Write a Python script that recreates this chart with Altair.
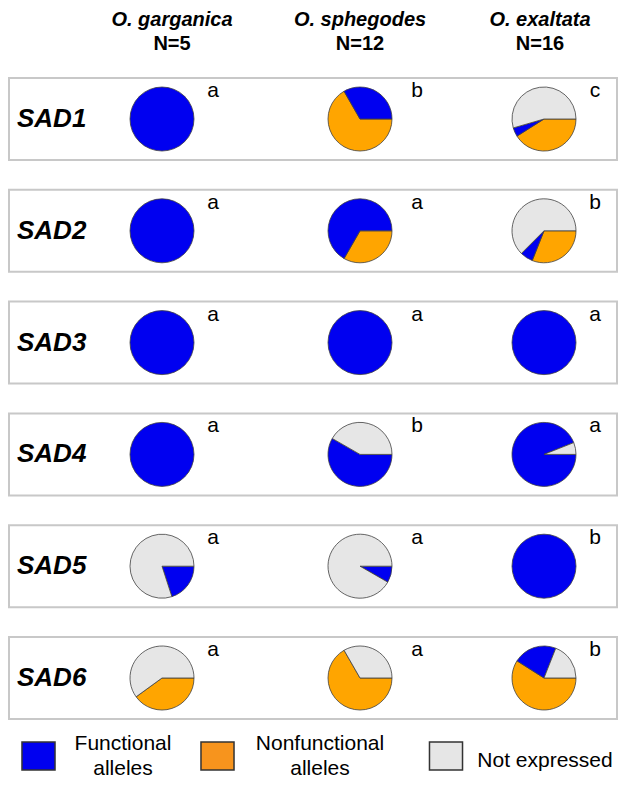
import math
import altair as alt
import pandas as pd

# ---------------- data ----------------
genes = ["SAD1", "SAD2", "SAD3", "SAD4", "SAD5", "SAD6"]
species = ["O. garganica", "O. sphegodes", "O. exaltata"]
sample_sizes = ["N=5", "N=12", "N=16"]

# slice order clockwise from 3 o'clock
categories = ["Nonfunctional alleles", "Functional alleles", "Not expressed"]

# fractions, rows = genes, columns = species
nonfunctional = [
    [0.0, 0.667, 0.41],
    [0.0, 0.333, 0.31],
    [0.0, 0.0, 0.0],
    [0.0, 0.0, 0.0],
    [0.0, 0.0, 0.0],
    [0.4, 0.667, 0.59],
]
functional = [
    [1.0, 0.333, 0.045],
    [1.0, 0.667, 0.065],
    [1.0, 1.0, 1.0],
    [1.0, 0.583, 0.94],
    [0.2, 0.083, 1.0],
    [0.0, 0.0, 0.22],
]
not_expressed = [
    [0.0, 0.0, 0.545],
    [0.0, 0.0, 0.625],
    [0.0, 0.0, 0.0],
    [0.0, 0.417, 0.06],
    [0.8, 0.917, 0.0],
    [0.6, 0.333, 0.19],
]
letters = [
    ["a", "b", "c"],
    ["a", "a", "b"],
    ["a", "a", "a"],
    ["a", "b", "a"],
    ["a", "a", "b"],
    ["a", "a", "b"],
]
legend_labels = ["Functional\nalleles", "Nonfunctional\nalleles", "Not expressed"]
legend_keys = ["Functional alleles", "Nonfunctional alleles", "Not expressed"]

# ---------------- tables ----------------
pie_rows = []
for gi, g in enumerate(genes):
    for si in range(len(species)):
        vals = [nonfunctional[gi][si], functional[gi][si], not_expressed[gi][si]]
        tot = sum(vals)
        start = 0.0
        for cat, v in zip(categories, vals):
            if v > 0:
                pie_rows.append(dict(gene=g, col=si, category=cat,
                                     start=start / tot, end=(start + v) / tot))
            start += v
pie_df = pd.DataFrame(pie_rows)

letter_df = pd.DataFrame([dict(gene=g, col=si, letter=letters[gi][si])
                          for gi, g in enumerate(genes) for si in range(len(species))])
gene_df = pd.DataFrame(dict(gene=genes))
head_df = pd.DataFrame(dict(col=list(range(len(species))), species=species, n=sample_sizes))
leg_df = pd.DataFrame(dict(idx=list(range(3)), key=legend_keys, label=legend_labels,
                           lines=[len(s.split("\n")) for s in legend_labels]))

# ---------------- styling ----------------
FONT = "Liberation Sans"
pie_colors = ["#0000f0", "#ffa500", "#e6e6e6"]
legend_colors = ["#0000f0", "#f7941d", "#e6e6e6"]

yscale = alt.Scale(domain=genes, type="band", range=[70, 711], paddingInner=0.2665, paddingOuter=0)
Y = alt.Y("gene:N", scale=yscale, axis=None, bandPosition=0.5)

def colscale(rng):
    return alt.Scale(domain=[0, 1, 2], range=rng, zero=False, nice=False)

boxes = alt.Chart(gene_df).mark_rect(fill="white", stroke="#c8c8c8", strokeWidth=2).encode(
    y=alt.Y("gene:N", scale=yscale, axis=None),
    x=alt.value(1),
    x2=alt.value(609),
)

gene_labels = alt.Chart(gene_df).mark_text(
    align="left", baseline="middle", font=FONT, fontSize=26,
    fontWeight="bold", fontStyle="italic", color="black"
).encode(y=Y, x=alt.value(9), text="gene:N")

pies = alt.Chart(pie_df).mark_arc(radius=32, stroke="#404040", strokeWidth=0.8).encode(
    x=alt.X("col:Q", stack=None, scale=colscale([154, 352, 536]), axis=None),
    y=Y,
    theta=alt.Theta("start:Q", stack=None,
                    scale=alt.Scale(domain=[0, 1], range=[math.pi / 2, math.pi / 2 + 2 * math.pi])),
    theta2="end:Q",
    color=alt.Color("category:N", scale=alt.Scale(domain=legend_keys, range=pie_colors), legend=None),
)

letter_layer = alt.Chart(letter_df).mark_text(
    align="center", baseline="alphabetic", dy=-22, font=FONT, fontSize=21, color="black"
).encode(
    x=alt.X("col:Q", stack=None, scale=colscale([205, 409, 587]), axis=None),
    y=Y,
    text="letter:N",
)

head_species = alt.Chart(head_df).mark_text(
    align="center", baseline="alphabetic", font=FONT, fontSize=20,
    fontWeight="bold", fontStyle="italic", color="black"
).encode(
    x=alt.X("col:Q", stack=None, scale=colscale([164, 352, 532]), axis=None),
    y=alt.value(18),
    text="species:N",
)
head_n = alt.Chart(head_df).mark_text(
    align="center", baseline="alphabetic", font=FONT, fontSize=20,
    fontWeight="bold", color="black"
).encode(
    x=alt.X("col:Q", stack=None, scale=colscale([164, 352, 532]), axis=None),
    y=alt.value(42),
    text="n:N",
)

leg_squares = alt.Chart(leg_df).mark_point(
    shape="M-1.18,-1L1.18,-1L1.18,1L-1.18,1Z", size=784, filled=True,
    stroke="#333333", strokeWidth=1.5, opacity=1
).encode(
    x=alt.X("idx:Q", stack=None, scale=colscale([30.5, 209.5, 438]), axis=None),
    y=alt.value(748),
    fill=alt.Fill("key:N", scale=alt.Scale(domain=legend_keys, range=legend_colors), legend=None),
)

leg_text_two = alt.Chart(leg_df).transform_filter("datum.lines > 1").mark_text(
    align="center", baseline="middle", lineBreak="\n", lineHeight=25,
    font=FONT, fontSize=21, color="black"
).encode(
    x=alt.X("idx:Q", stack=None, scale=colscale([115, 312, 537]), axis=None),
    y=alt.value(736),
    text="label:N",
)
leg_text_one = alt.Chart(leg_df).transform_filter("datum.lines == 1").mark_text(
    align="center", baseline="middle", font=FONT, fontSize=21, color="black"
).encode(
    x=alt.X("idx:Q", stack=None, scale=colscale([115, 312, 537]), axis=None),
    y=alt.value(753),
    text="label:N",
)

chart = alt.layer(
    boxes, gene_labels, pies, letter_layer, head_species, head_n,
    leg_squares, leg_text_two, leg_text_one
).resolve_scale(
    x="independent", color="independent", fill="independent"
).properties(
    width=610, height=772, padding=0, autosize="none", background="white"
).configure_view(strokeWidth=0)

chart.save("out.html", embed_options={"renderer": "svg", "actions": False})
